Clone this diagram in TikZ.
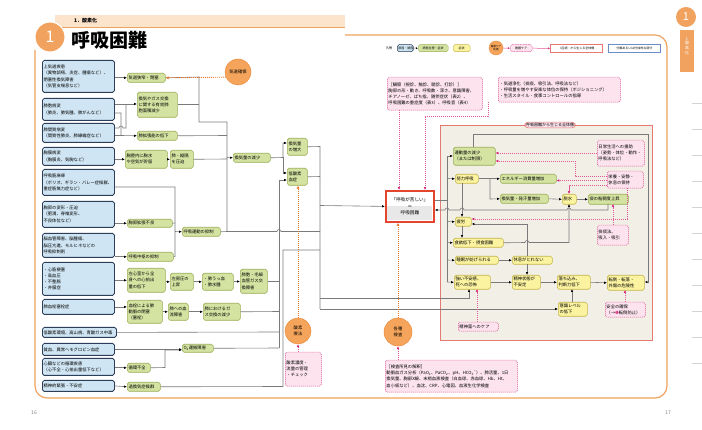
\documentclass[tikz,border=0pt]{standalone}
\usepackage{fontspec}
\setmainfont{Noto Sans CJK JP}
\newfontfamily\dejavu{DejaVu Sans}
\usetikzlibrary{arrows.meta}
\definecolor{cfill}{HTML}{CFE5F3}
\definecolor{cdraw}{HTML}{2C3E5A}
\definecolor{gfill}{HTML}{D5E3A2}
\definecolor{gdraw}{HTML}{9AAE55}
\definecolor{yfill}{HTML}{FBF3A0}
\definecolor{ydraw}{HTML}{C4B448}
\definecolor{pfill}{HTML}{FCE3EE}
\definecolor{pdraw}{HTML}{E2589A}
\definecolor{ofill}{HTML}{F5A55B}
\definecolor{odraw}{HTML}{EC8A3A}
\definecolor{odot}{HTML}{E8782A}
\definecolor{mag}{HTML}{D6247A}
\definecolor{bigfill}{HTML}{F2EFE6}
\definecolor{bigdraw}{HTML}{E47A72}
\definecolor{redb}{HTML}{E3452F}
\definecolor{frameO}{HTML}{F0A25E}
\definecolor{peach}{HTML}{FCE3CC}
\definecolor{lgray}{HTML}{7A7A7A}
\definecolor{lblue}{HTML}{6C8EC8}
\begin{document}
\begin{tikzpicture}[x=1pt,y=-1pt,
  wh/.code 2 args={\pgfmathsetmacro\tw{#1-2.4}\edef\tmp{\noexpand\tikzset{minimum width=#1pt,minimum height=#2pt,text width=\tw pt}}\tmp},
  base/.style={draw, rounded corners=1.8pt, anchor=north west, inner sep=1.2pt, align=left, font=\fontsize{4.3}{6.1}\selectfont},
  cause/.style={base, fill=cfill, draw=cdraw, line width=0.8pt},
  patho/.style={base, fill=gfill, draw=gdraw, line width=0.6pt},
  symp/.style={base, fill=yfill, draw=ydraw, line width=0.6pt},
  care/.style={base, fill=pfill, draw=pdraw, line width=0.5pt, dash pattern=on 1.2pt off 0.8pt},
  ncirc/.style={circle, fill=ofill, draw=odraw, line width=0.5pt, inner sep=0pt, align=center, font=\fontsize{4.3}{5.6}\selectfont},
  ln/.style={draw=lgray, line width=0.6pt},
  arr/.style={ln, -{Latex[length=2.8pt,width=2.4pt,color=black]}},
  rarr/.style={ln, {Latex[length=2.8pt,width=2.4pt,color=black]}-},
  oarr/.style={draw=odot, line width=0.9pt, dash pattern=on 0.9pt off 1.1pt, -{Latex[length=3pt,width=3pt,color=odot]}},
  parr/.style={draw=pdraw, line width=0.5pt, dash pattern=on 1.2pt off 0.8pt, -{Latex[length=2.8pt,width=2.6pt,color=mag]}},
  lgd/.style={base, font=\fontsize{3}{3.6}\selectfont, align=center, inner sep=0.6pt}
]
\useasboundingbox (0,0) rectangle (702,430);
\fill[white] (0,0) rectangle (702,430);

% ---------- frame and header ----------
\draw[frameO, line width=1.2pt, rounded corners=12pt] (345,35) -- (667,35) -- (667,398) -- (35,398) -- (35,50);
\fill[peach] (55,15) rectangle (345,27);
\draw[frameO, line width=0.6pt] (55,27) -- (345,27);
\node[circle, fill=frameO, draw=white, line width=1pt, minimum size=30pt, text=white, font=\fontsize{16}{16}\selectfont] (num) at (50,37) {1};
\node[anchor=west, font=\fontsize{5}{5}\selectfont\bfseries, inner sep=0pt] (sec) at (74,21) {1．酸素化};
\node[anchor=west, font=\fontsize{19}{19}\selectfont\bfseries, inner sep=0pt] (title) at (71,40) {呼吸困難};
\node[circle, fill=frameO, minimum size=20pt, text=white, inner sep=0pt, font=\fontsize{11}{11}\selectfont] (tabnum) at (686,17) {1};
\node[fill=frameO, minimum width=14pt, minimum height=42pt, anchor=north, inner sep=0pt] (tab) at (687,30) {};
\node[text=white, align=center, inner sep=0pt, font=\fontsize{4}{4.6}\selectfont] (tabtxt) at (687,46) {1\\酸\\素\\化};
\foreach \yy in {103,129,155,181,207,233,259,285,311,337,363} \draw[gray!35, line width=0.6pt] (692,\yy) -- (702,\yy);
\node[font=\fontsize{5}{5}\selectfont, text=gray, inner sep=0pt] (pg16) at (34,413) {16};
\node[font=\fontsize{5}{5}\selectfont, text=gray, inner sep=0pt] (pg17) at (668,413) {17};

% ---------- legend ----------
\node[font=\fontsize{3.2}{3.2}\selectfont, inner sep=0pt] (lg0) at (389,48) {凡例};
\node[lgd, fill=cfill, draw=cdraw, line width=0.5pt, wh={16}{7}] (lg1) at (397,44.5) {原因・誘因};
\node[lgd, fill=gfill, draw=gdraw, wh={30}{7}] (lg2) at (418,44.5) {病態生理・症状};
\node[lgd, fill=yfill, draw=ydraw, wh={17}{7}] (lg3) at (453,44.5) {症状};
\node[circle, fill=ofill, draw=odraw, minimum size=14pt, inner sep=0pt, align=center, font=\fontsize{2.6}{3}\selectfont] (lg4) at (496,48) {看護ケア\\処置};
\node[lgd, fill=pfill, draw=pdraw, dash pattern=on 1pt off 0.6pt, wh={22}{7}] (lg5) at (510,44.5) {看護ケア};
\node[lgd, fill=white, draw=bigdraw, line width=0.8pt, wh={52}{8}, rounded corners=0pt] (lg6) at (550,44) {（症状）から生じる全体像};
\node[lgd, fill=white, draw=lblue, line width=0.8pt, wh={52}{8}, rounded corners=0pt] (lg7) at (608,44) {分類あるいは付加的な部分};
\draw[ln, line width=0.5pt, -{Latex[length=2pt,width=2pt,color=black]}] (lg1.east) -- (lg2.west);
\draw[pdraw, line width=0.5pt, -{Latex[length=2pt,width=2pt,color=mag]}] (lg4.east) -- (lg5.west);
\draw[pdraw, line width=0.5pt, -{Latex[length=2pt,width=2pt,color=mag]}] (lg5.east) -- (lg6.west);

% ---------- big right box ----------
\node[draw=bigdraw, fill=bigfill, line width=1.3pt, anchor=north west, minimum width=212pt, minimum height=215pt, inner sep=0pt] (big) at (440,125) {};
\node[fill=pfill, draw=bigdraw, line width=0.6pt, rounded corners=3pt, inner sep=1pt, font=\fontsize{4}{4.5}\selectfont] (bigt) at (550,125) {呼吸困難から生じる全体像};

% ---------- causes ----------
\node[cause,wh={72}{32}] (c1) at (42,60) {上気道疾患\\（異物誤嚥、炎症、腫瘍など）、\\閉塞性換気障害\\（気管支喘息など）};
\node[cause,wh={72}{22}] (c2) at (42,98) {肺胞病変\\（肺炎、肺気腫、肺がんなど）};
\node[cause,wh={72}{19}] (c3) at (42,123) {肺間質病変\\（間質性肺炎、肺線維症など）};
\node[cause,wh={72}{18}] (c4) at (42,147) {胸膜病変\\（胸膜炎、気胸など）};
\node[cause,wh={72}{26}] (c5) at (42,169) {呼吸筋麻痺\\（ポリオ、ギラン・バレー症候群、\\重症筋無力症など）};
\node[cause,wh={72}{26}] (c6) at (42,201) {胸郭の変形・圧迫\\（肥満、脊椎変形、\\不良体位など）};
\node[cause,wh={72}{24}] (c7) at (42,233) {脳血管障害、脳腫瘍、\\脳圧亢進、モルヒネなどの\\呼吸抑制剤};
\node[cause,wh={72}{33}] (c8) at (42,262) {・心筋梗塞\\・高血圧\\・不整脈\\・弁膜症};
\node[cause,wh={72}{15}] (c9) at (42,299) {肺血栓塞栓症};
\node[cause,wh={74}{10}] (c10) at (42,327) {低酸素環境、高山病、青酸ガス中毒};
\node[cause,wh={72}{12}] (c11) at (42,343) {貧血、異常ヘモグロビン血症};
\node[cause,wh={72}{17}] (c12) at (42,358) {心臓などの循環疾患\\（心不全・心拍出量低下など）};
\node[cause,wh={72}{11}] (c13) at (42,380) {精神的緊張・不安症};

% ---------- pathophysiology ----------
\node[patho,wh={38}{9}] (p1) at (127,73) {気道狭窄・閉塞};
\node[patho,wh={40}{25}] (p2) at (137,92) {換気やガス交換\\に関する有効肺\\胞面積減少};
\node[patho,wh={40}{9}] (p3) at (137,131) {肺拡張能の低下};
\node[patho,wh={42}{18}] (p4) at (125,150) {胸腔内に胸水\\や空気が貯留};
\node[patho,wh={23}{18}] (p5) at (170,150) {肺・縦隔\\を圧迫};
\node[patho,wh={45}{8}] (p6) at (127,219) {胸郭拡張不良};
\node[patho,wh={38}{9}] (p7) at (182,227) {呼吸運動の抑制};
\node[patho,wh={46}{9}] (p8) at (127,252) {呼吸中枢の抑制};
\node[patho,wh={38}{24}] (p9) at (127,268) {左心室から全\\身への心拍出\\量の低下};
\node[patho,wh={23}{17}] (p10) at (170,273) {左房圧の\\上昇};
\node[patho,wh={31}{17}] (p11) at (202,273) {・肺うっ血\\・肺水腫};
\node[patho,wh={27}{24}] (p12) at (240,269) {肺胞・毛細\\血管ガス交\\換障害};
\node[patho,wh={35}{23}] (p13) at (127,300) {血栓による肺\\動脈の閉塞\\（塞栓）};
\node[patho,wh={20}{17}] (p14) at (168,303) {肺への血\\流障害};
\node[patho,wh={37}{17}] (p15) at (203,303) {肺におけるガ\\ス交換の減少};
\node[patho,wh={31}{8}] (p16) at (182,344) {O\textsubscript{2}運搬障害};
\node[patho,wh={23}{9}] (p17) at (127,363) {循環不全};
\node[patho,wh={33}{9}] (p18) at (127,382) {過換気症候群};
\node[patho,wh={37}{9}] (p19) at (233,153) {換気量の減少};
\node[patho,wh={20}{17}] (p20) at (287,138) {換気量\\の増大};
\node[patho,wh={20}{17}] (p21) at (287,168) {低酸素\\血症};

% ---------- centre ----------
\fill[gray!18] (386,206) rectangle (432,220);
\node[draw=redb, line width=1.8pt, anchor=north west, minimum width=48pt, minimum height=31pt, inner sep=0pt, align=center, font=\fontsize{4.6}{6.4}\selectfont] (red) at (385,190) {「呼吸が苦しい」\\＝\\呼吸困難};

% ---------- nursing circles and care boxes ----------
\node[ncirc, minimum size=26pt] (oc1) at (238,72) {気道確保};
\node[ncirc, minimum size=26pt] (oc2) at (298,331) {酸素\\療法};
\node[ncirc, minimum size=28pt] (oc3) at (398,332) {各種\\検査};
\node[care,wh={95}{33}] (k1) at (387,77) {［観察（視診、触診、聴診、打診）］\\胸郭の形・動き、呼吸数・深さ、意識障害、\\チアノーゼ、ばち指、随伴症状（表2）、\\呼吸困難の重症度（表3）、呼吸音（表4）};
\node[care,wh={122}{25}] (k2) at (498,77) {・気道浄化（排痰、吸引法、呼吸法など）\\・呼吸量を増やす安楽な体位の保持（ポジショニング）\\・生活スタイル・食事コントロールの指導};
\node[care,wh={132}{32}] (k3) at (385,360) {［検査所見の解釈］\\動脈血ガス分析（PaO\textsubscript{2}、PaCO\textsubscript{2}、pH、HCO\textsubscript{3}\textsuperscript{−}）、肺活量、1日\\換気量、胸部X線、末梢血液検査（白血球、赤血球、Hb、Ht、\\血小板など）、血沈、CRP、心電図、血液生化学検査};
\node[care,wh={36}{34}] (k4) at (285,352) {酸素濃度・\\流量の管理\\・チェック};

% ---------- right box content ----------
\node[patho,wh={42}{18}] (s1) at (453,147) {運動量の減少\\（または制限）};
\node[symp,wh={23}{9}] (s2) at (455,174) {努力呼吸};
\node[patho,wh={56}{9}] (s3) at (500,174) {エネルギー消費量増加};
\node[patho,wh={48}{9}] (s4) at (500,194) {換気量・発汗量増加};
\node[symp,wh={14}{10}] (s5) at (562,194) {脱水};
\node[patho,wh={40}{10}] (s6) at (588,194) {痰の粘稠度上昇};
\node[symp,wh={16}{9}] (s7) at (455,217) {疲労};
\node[symp,wh={50}{9}] (s8) at (453,238) {食欲低下・摂食困難};
\node[symp,wh={43}{8}] (s9) at (455,256) {睡眠が妨げられる};
\node[symp,wh={40}{8}] (s10) at (512,256) {休息がとれない};
\node[symp,wh={36}{14}] (s11) at (454,275) {強い不安感、\\死への恐怖};
\node[symp,wh={28}{14}] (s12) at (512,275) {精神状態が\\不安定};
\node[symp,wh={33}{14}] (s13) at (557,275) {落ち込み、\\判断力低下};
\node[symp,wh={37}{15}] (s14) at (607,275) {転倒・転落・\\外傷の危険性};
\node[symp,wh={29}{14}] (s15) at (558,302) {意識レベル\\の低下};
\node[care,wh={47}{26}] (k5) at (597,140) {日常生活への援助\\（姿勢・体位・動作・\\呼吸法など）};
\node[care,wh={36}{17}] (k6) at (607,171) {栄養・安静・\\休息の保持};
\node[care,wh={31}{20}] (k7) at (597,225) {排痰法、\\吸入・吸引};
\node[care,wh={40}{15}] (k8) at (605,302) {安全の確保\\（→{\dejavu\color{mag}❶}転倒防止）};
\node[care,wh={40}{9}] (k9) at (458,322) {精神面へのケア};

% ---------- connectors: left ----------
\draw[arr] (c1.east|-p1.west) -- (p1.west);
\draw[arr] (c2.east|-0,104) -- (p2.west|-0,104);
\draw[arr] (c2.east|-0,113) -- (121,113) -- (121,135.5) -- (p3.west);
\draw[ln] (c3.east|-0,128) -- (119,128) arc[start angle=180,end angle=0,radius=2pt] -- (126,128) -- (126,104);
\draw[ln] (c3.east|-0,135.5) -- (121,135.5);
\draw[arr] (c4.east|-p4.west) -- (p4.west);
\draw[arr] (p4.east) -- (p5.west);
\draw[ln] (p1.east) -- (199,77) -- (199,122) -- (227,122) -- (227,231.5) -- (p7.east);
\draw[ln] (p2.east|-0,104) -- (199,104);
\draw[ln] (p3.east) -- (227,135.5);
\draw[ln] (p5.east) -- (227,159);
\draw[arr] (227,157.5) -- (p19.west);
\draw[ln] (c5.east|-0,187) -- (175,187) -- (175,256.5) -- (p8.east);
\draw[arr] (c6.east|-p6.west) -- (p6.west);
\draw[ln] (p6.east) -- (175,223);
\draw[arr] (175,231.5) -- (p7.west);
\draw[arr] (c7.east|-p8.west) -- (p8.west);
\draw[arr] (c8.east|-p9.west) -- (p9.west);
\draw[arr] (p9.east|-p10.west) -- (p10.west);
\draw[arr] (p10.east) -- (p11.west);
\draw[arr] (p11.east|-0,281.5) -- (p12.west|-0,281.5);
\draw[arr] (c9.east) -- (p13.west|-c9.east);
\draw[arr] (p13.east|-p14.west) -- (p14.west);
\draw[arr] (p14.east) -- (p15.west);
\draw[arr] (c11.east) -- (p16.west|-c11.east);
\draw[arr] (c12.east|-p17.west) -- (p17.west);
\draw[arr] (p17.east) -- (165,367.5) -- (165,350) -- (p16.west|-0,350);
\draw[arr] (c13.east) -- (p18.west);

% ---------- connectors: to hypoxaemia / bus ----------
\draw[ln] (p12.east|-0,281) -- (279,281);
\draw[ln] (p15.east) -- (279,311.5);
\draw[ln] (c10.east) -- (279,332);
\draw[ln] (p16.east) -- (279,348);
\draw[arr] (279,348) -- (279,180) -- (p21.west|-0,180);
\draw[ln] (227,231.5) -- (277,231.5) arc[start angle=180,end angle=0,radius=2pt] -- (320,231.5);
\draw[arr] (p19.east) -- (283,157.5) -- (283,143) -- (p20.west|-0,143);
\draw[arr] (283,157.5) -- (283,173) -- (p21.west|-0,173);
\draw[ln] (p18.east) -- (283,386.5) -- (283,250) -- (320,250);
\draw[ln] (p20.east) -- (320,146.5) -- (320,309);
\draw[ln] (p21.east) -- (320,176.5);
\draw[arr] (320,205.5) -- (red.west);
\draw[arr] (320,309) -- (s15.west|-0,309);
\draw[arr] (320,298) -- (469,298) -- (469,289);

% ---------- connectors: right box ----------
\draw[ln] (red.east|-0,200) -- (447,200);
\draw[ln] (447,156) -- (447,282);
\draw[arr] (447,156) -- (s1.west|-0,156);
\draw[arr] (447,178.5) -- (s2.west);
\draw[arr] (447,221.5) -- (s7.west);
\draw[arr] (447,242.5) -- (s8.west);
\draw[arr] (447,260) -- (s9.west);
\draw[arr] (447,282) -- (s11.west);
\draw[rarr] (red.east|-0,210) -- (445,210) arc[start angle=180,end angle=0,radius=2pt] -- (460,210) arc[start angle=180,end angle=0,radius=2pt] -- (567,210) arc[start angle=180,end angle=0,radius=2pt] -- (608,210) -- (608,204);
\draw[arr] (s1.north-|473,0) -- (473,134) -- (648,134) -- (648,282) -- (s14.east|-0,282);
\draw[arr] (s2.east) -- (s3.west);
\draw[arr] (490,178.5) -- (490,199) -- (s4.west);
\draw[arr] (s4.east) -- (s5.west);
\draw[arr] (s5.east) -- (s6.west);
\draw[arr] (462,183) -- (462,217);
\draw[arr] (462,226) -- (462,238);
\draw[arr] (s8.east) -- (525,242.5) arc[start angle=180,end angle=0,radius=2pt] -- (569,242.5) -- (569,204);
\draw[arr] (527,256) -- (527,224) -- (s7.east|-0,224);
\draw[arr] (s9.east) -- (s10.west);
\draw[arr] (527,264) -- (527,275);
\draw[arr] (s11.east) -- (s12.west);
\draw[arr] (s12.east) -- (s13.west);
\draw[arr] (s13.east) -- (s14.west);
\draw[arr] (572,302) -- (572,289);

% ---------- care connectors ----------
\draw[parr] (k5.west|-0,153) -- (s1.east|-0,153);
\draw[parr] (k6.west|-0,176) -- (575,176) -- (575,161) -- (s1.east|-0,161);
\draw[parr] (k6.west|-0,180.5) -- (s3.east|-0,180.5);
\draw[parr] (k6.west|-0,185.5) -- (569,185.5) -- (569,194);
\draw[parr] (627,188) -- (627,219) -- (s7.east|-0,219);
\draw[parr] (613,225) -- (613,204);
\draw[parr] (625,302) -- (625,290);
\draw[parr] (477,322) -- (477,289);
\draw[parr] (399,110) -- (399,190);
\draw[parr] (488,102) -- (488,116) -- (425,116) -- (425,190);
\draw[parr] (k3.north -| oc3.south) -- (oc3.south);
\draw[parr] (k4.north -| oc2.south) -- (oc2.south);
\draw[oarr] (oc1.203) -- (p1.east);
\draw[oarr] (oc2.north) -- (oc2.north|-p21.south);
\draw[oarr] (oc3.north) -- (oc3.north|-red.south);
\end{tikzpicture}
\end{document}
